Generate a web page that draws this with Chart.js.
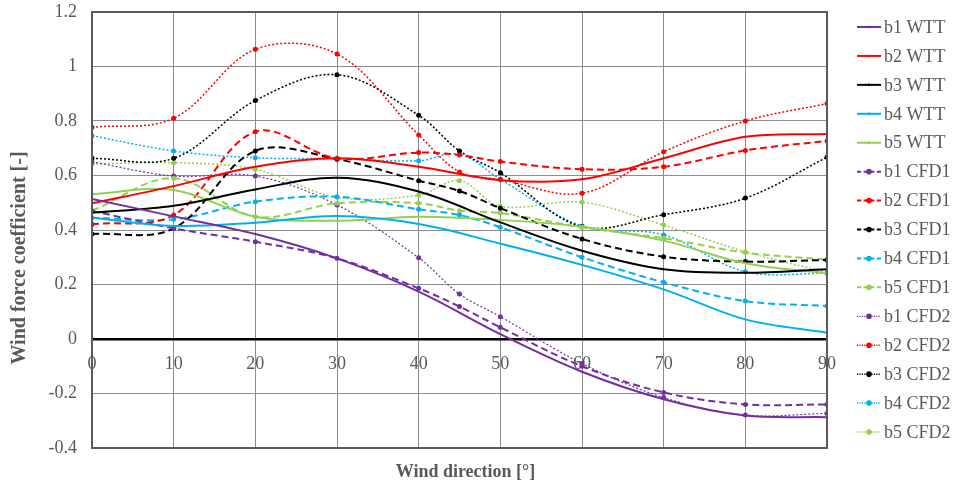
<!DOCTYPE html>
<html>
<head>
<meta charset="utf-8">
<script src="https://cdn.jsdelivr.net/npm/chart.js@4/dist/chart.umd.min.js"></script>
<style>
  html, body { margin: 0; padding: 0; background: #ffffff; }
  #wrap { width: 955px; height: 491px; }
</style>
</head>
<body>
<div id="wrap"><canvas id="c" width="955" height="491"></canvas></div>
<script>
// Wind direction [deg]
const angleWTT = [0, 10, 20, 30, 40, 50, 60, 70, 80, 90];
const angleCFD = [0, 10, 20, 30, 40, 45, 50, 60, 70, 80, 90];

// Wind tunnel test
const b1WTT = [0.514, 0.45, 0.385, 0.296, 0.174, 0.018, -0.12, -0.221, -0.281, -0.287];
const b2WTT = [0.498, 0.561, 0.632, 0.663, 0.632, 0.583, 0.586, 0.663, 0.742, 0.752];
const b3WTT = [0.463, 0.489, 0.549, 0.592, 0.541, 0.428, 0.324, 0.256, 0.243, 0.256];
const b4WTT = [0.445, 0.415, 0.427, 0.451, 0.422, 0.35, 0.272, 0.182, 0.072, 0.023];
const b5WTT = [0.531, 0.547, 0.449, 0.434, 0.449, 0.437, 0.412, 0.361, 0.278, 0.241];

// CFD model 1
const b1CFD1 = [0.47, 0.406, 0.357, 0.296, 0.186, 0.119, 0.043, -0.1, -0.196, -0.24, -0.24];
const b2CFD1 = [0.421, 0.455, 0.761, 0.663, 0.684, 0.675, 0.651, 0.623, 0.632, 0.692, 0.727];
const b3CFD1 = [0.385, 0.406, 0.69, 0.66, 0.581, 0.543, 0.48, 0.367, 0.302, 0.284, 0.29];
const b4CFD1 = [0.445, 0.439, 0.504, 0.522, 0.476, 0.455, 0.41, 0.30, 0.208, 0.139, 0.121];
const b5CFD1 = [0.471, 0.59, 0.449, 0.498, 0.498, 0.471, 0.462, 0.41, 0.37, 0.317, 0.292];

// CFD model 2
const b1CFD2 = [0.65, 0.598, 0.598, 0.492, 0.298, 0.165, 0.082, -0.09, -0.215, -0.279, -0.273];
const b2CFD2 = [0.777, 0.81, 1.063, 1.046, 0.749, 0.613, 0.585, 0.535, 0.687, 0.80, 0.864];
const b3CFD2 = [0.663, 0.663, 0.875, 0.970, 0.821, 0.69, 0.61, 0.412, 0.456, 0.517, 0.667];
const b4CFD2 = [0.746, 0.69, 0.665, 0.662, 0.654, 0.678, 0.586, 0.415, 0.382, 0.247, 0.241];
const b5CFD2 = [0.642, 0.647, 0.623, 0.52, 0.528, 0.581, 0.487, 0.502, 0.418, 0.32, 0.245];

const yTicks = [-0.4, -0.2, 0, 0.2, 0.4, 0.6, 0.8, 1, 1.2];
const xTicks = [0, 10, 20, 30, 40, 50, 60, 70, 80, 90];

const colors = { b1: '#7030A0', b2: '#FF0000', b3: '#000000', b4: '#00B0F0', b5: '#92D050' };
const TEXT = '#595959';
const FONT = '"Liberation Serif", "Times New Roman", serif';

const styles = {
  WTT:  { dash: [],     width: 2,   radius: 1 },
  CFD1: { dash: [7, 4], width: 2,   radius: 2.5 },
  CFD2: { dash: [2, 2], width: 1.5, radius: 2.5 }
};

function series(label, key, kind, xs, ys) {
  const st = styles[kind];
  return {
    label: label,
    data: xs.map((x, i) => ({ x: x, y: ys[i] })),
    borderColor: colors[key],
    backgroundColor: colors[key],
    borderWidth: (key === 'b1' && kind === 'CFD2') ? 1.2 : st.width,
    borderDash: st.dash,
    pointRadius: st.radius,
    pointHoverRadius: st.radius,
    pointBorderWidth: 0,
    tension: 0.35,
    fill: false
  };
}

const datasets = [
  series('b1 WTT', 'b1', 'WTT', angleWTT, b1WTT),
  series('b2 WTT', 'b2', 'WTT', angleWTT, b2WTT),
  series('b3 WTT', 'b3', 'WTT', angleWTT, b3WTT),
  series('b4 WTT', 'b4', 'WTT', angleWTT, b4WTT),
  series('b5 WTT', 'b5', 'WTT', angleWTT, b5WTT),
  series('b1 CFD1', 'b1', 'CFD1', angleCFD, b1CFD1),
  series('b2 CFD1', 'b2', 'CFD1', angleCFD, b2CFD1),
  series('b3 CFD1', 'b3', 'CFD1', angleCFD, b3CFD1),
  series('b4 CFD1', 'b4', 'CFD1', angleCFD, b4CFD1),
  series('b5 CFD1', 'b5', 'CFD1', angleCFD, b5CFD1),
  series('b1 CFD2', 'b1', 'CFD2', angleCFD, b1CFD2),
  series('b2 CFD2', 'b2', 'CFD2', angleCFD, b2CFD2),
  series('b3 CFD2', 'b3', 'CFD2', angleCFD, b3CFD2),
  series('b4 CFD2', 'b4', 'CFD2', angleCFD, b4CFD2),
  series('b5 CFD2', 'b5', 'CFD2', angleCFD, b5CFD2)
];

function fmt(v) {
  const r = Math.round(v * 10) / 10;
  return String(r === 0 ? 0 : r);
}

// Frame around the plot area plus axis titles
const framePlugin = {
  id: 'frame',
  afterDatasetsDraw(chart) {
    const { ctx, chartArea: a } = chart;
    ctx.save();
    ctx.strokeStyle = '#5a5a5a';
    ctx.lineWidth = 2;
    ctx.strokeRect(a.left, a.top, a.right - a.left, a.bottom - a.top);
    ctx.restore();
  },
  afterDraw(chart) {
    const { ctx, chartArea: a } = chart;
    ctx.save();
    ctx.fillStyle = TEXT;
    ctx.font = 'bold 18px ' + FONT;
    ctx.textAlign = 'center';
    ctx.textBaseline = 'middle';
    ctx.fillText('Wind direction [°]', (a.left + a.right) / 2 + 6, 472);
    ctx.translate(20, 258);
    ctx.rotate(-Math.PI / 2);
    ctx.font = 'bold 20px ' + FONT;
    ctx.fillText('Wind force coefficient [-]', 0, 0);
    ctx.restore();
  }
};

// Series key on the right-hand side
const keyPlugin = {
  id: 'seriesKey',
  afterDraw(chart) {
    const ctx = chart.ctx;
    const x0 = 857, x1 = 881, tx = 884, y0 = 27, step = 28.93;
    ctx.save();
    chart.data.datasets.forEach((ds, i) => {
      const y = y0 + i * step;
      ctx.strokeStyle = ds.borderColor;
      ctx.lineWidth = ds.borderWidth;
      ctx.setLineDash(ds.borderDash.length ? [ds.borderDash[0] * 0.6, ds.borderDash[1] * 0.6] : []);
      ctx.beginPath();
      ctx.moveTo(x0, y);
      ctx.lineTo(x1, y);
      ctx.stroke();
      ctx.setLineDash([]);
      ctx.fillStyle = ds.borderColor;
      ctx.beginPath();
      ctx.arc((x0 + x1) / 2, y, ds.pointRadius + 0.3, 0, Math.PI * 2);
      ctx.fill();
      ctx.fillStyle = TEXT;
      ctx.font = '18px ' + FONT;
      ctx.textAlign = 'left';
      ctx.textBaseline = 'middle';
      ctx.fillText(ds.label, tx, y + 1);
    });
    ctx.restore();
  }
};

new Chart(document.getElementById('c'), {
  type: 'line',
  data: { datasets: datasets },
  options: {
    responsive: false,
    animation: false,
    devicePixelRatio: 1,
    layout: { padding: { left: 0, top: 12, right: 128, bottom: 0 } },
    plugins: { legend: { display: false }, tooltip: { enabled: false } },
    scales: {
      x: {
        type: 'linear',
        position: 'bottom',
        min: 0, max: 90,
        afterBuildTicks(s) { s.ticks = xTicks.map(v => ({ value: v })); },
        afterFit(s) { s.height = 43; s.paddingLeft = 0; s.paddingRight = 0; },
        ticks: { display: false },
        grid: { color: '#8c8c8c', lineWidth: 1, drawTicks: false },
        border: { display: false }
      },
      // direction labels sitting on the zero line
      xAxisLabels: {
        type: 'linear',
        axis: 'x',
        position: { y: 0 },
        min: 0, max: 90,
        afterBuildTicks(s) { s.ticks = xTicks.map(v => ({ value: v })); },
        afterFit(s) { s.paddingLeft = 0; s.paddingRight = 0; s.paddingTop = 0; s.paddingBottom = 0; },
        ticks: { color: TEXT, font: { size: 18, family: FONT }, padding: 14, maxRotation: 0, autoSkip: false },
        grid: { display: false, drawTicks: false },
        border: { display: false }
      },
      y: {
        type: 'linear',
        position: 'left',
        min: -0.4, max: 1.2,
        afterBuildTicks(s) { s.ticks = yTicks.map(v => ({ value: v })); },
        afterFit(s) { s.width = 92; s.paddingTop = 0; s.paddingBottom = 0; },
        ticks: { color: TEXT, font: { size: 18, family: FONT }, padding: 15, callback: fmt },
        grid: {
          drawTicks: false,
          color: c => (c.tick && c.tick.value === 0) ? '#000000' : '#8c8c8c',
          lineWidth: c => (c.tick && c.tick.value === 0) ? 2.5 : 1
        },
        border: { display: false }
      }
    }
  },
  plugins: [framePlugin, keyPlugin]
});
</script>
</body>
</html>
